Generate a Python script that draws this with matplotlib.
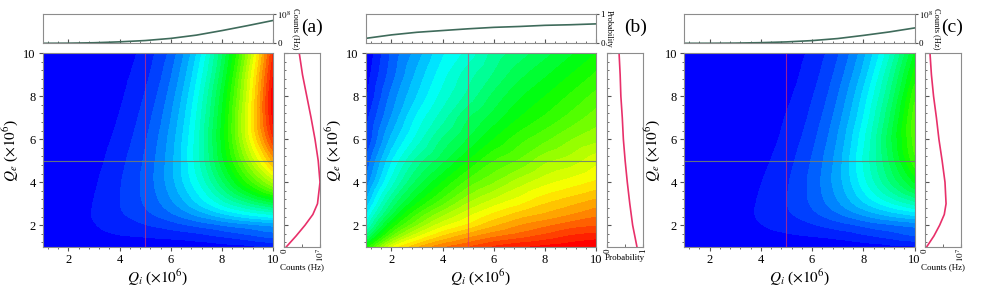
import numpy as np
import matplotlib
matplotlib.use("Agg")
import matplotlib.pyplot as plt
import matplotlib.tri as mtri
from matplotlib.colors import LinearSegmentedColormap, Normalize
from matplotlib.ticker import MultipleLocator, AutoMinorLocator

plt.rcParams['font.family'] = ['Liberation Serif', 'DejaVu Serif']
plt.rcParams['mathtext.fontset'] = 'stix'

# grid of the maps (x10^6)
qi = [1, 2, 3, 4, 5, 6, 7, 8, 9, 10]
qe = [1, 1.5, 2, 2.5, 3, 4, 5, 6, 7, 8, 9, 10]

# (a) counts, x10^7 Hz, one row per qe value
counts_a = [
    [0.02, 0.04, 0.05, 0.05, 0.06, 0.08, 0.12, 0.17, 0.23, 0.29],
    [0.03, 0.12, 0.21, 0.28, 0.33, 0.39, 0.48, 0.64, 0.82, 1.02],
    [0.02, 0.13, 0.28, 0.43, 0.58, 0.75, 0.97, 1.20, 1.40, 1.57],
    [0.02, 0.13, 0.32, 0.55, 0.80, 1.14, 1.56, 2.03, 2.43, 2.74],
    [0.01, 0.11, 0.31, 0.59, 0.93, 1.40, 2.06, 2.78, 3.46, 4.04],
    [0.00, 0.07, 0.26, 0.57, 1.00, 1.67, 2.59, 3.82, 5.14, 6.37],
    [0.00, 0.04, 0.19, 0.50, 0.95, 1.69, 2.82, 4.39, 6.10, 7.89],
    [0.00, 0.03, 0.14, 0.41, 0.86, 1.62, 2.82, 4.58, 6.71, 8.93],
    [0.00, 0.02, 0.11, 0.32, 0.75, 1.49, 2.71, 4.53, 6.85, 9.40],
    [0.00, 0.01, 0.08, 0.25, 0.63, 1.34, 2.54, 4.37, 6.71, 9.50],
    [0.00, 0.01, 0.06, 0.20, 0.51, 1.17, 2.32, 4.09, 6.51, 9.31],
    [0.00, 0.00, 0.04, 0.16, 0.42, 1.00, 2.09, 3.84, 6.17, 9.03],
]

# (b) probability
prob_b = [
    [0.50, 0.67, 0.75, 0.80, 0.83, 0.86, 0.88, 0.89, 0.90, 0.91],
    [0.40, 0.57, 0.67, 0.73, 0.77, 0.80, 0.82, 0.84, 0.86, 0.87],
    [0.33, 0.50, 0.60, 0.67, 0.71, 0.75, 0.78, 0.80, 0.82, 0.83],
    [0.29, 0.44, 0.55, 0.62, 0.67, 0.71, 0.74, 0.76, 0.78, 0.80],
    [0.25, 0.40, 0.50, 0.57, 0.63, 0.67, 0.70, 0.73, 0.75, 0.77],
    [0.20, 0.33, 0.43, 0.50, 0.56, 0.60, 0.64, 0.67, 0.69, 0.71],
    [0.17, 0.29, 0.38, 0.44, 0.50, 0.55, 0.58, 0.62, 0.64, 0.67],
    [0.14, 0.25, 0.33, 0.40, 0.45, 0.50, 0.54, 0.57, 0.60, 0.62],
    [0.13, 0.22, 0.30, 0.36, 0.42, 0.46, 0.50, 0.53, 0.56, 0.59],
    [0.11, 0.20, 0.27, 0.33, 0.38, 0.43, 0.47, 0.50, 0.53, 0.56],
    [0.10, 0.18, 0.25, 0.31, 0.36, 0.40, 0.44, 0.47, 0.50, 0.53],
    [0.09, 0.17, 0.23, 0.29, 0.33, 0.38, 0.41, 0.44, 0.47, 0.50],
]

# (c) counts, x10^7 Hz
counts_c = [
    [0.01, 0.03, 0.04, 0.04, 0.05, 0.07, 0.11, 0.15, 0.21, 0.26],
    [0.01, 0.07, 0.14, 0.20, 0.25, 0.31, 0.39, 0.54, 0.71, 0.89],
    [0.01, 0.07, 0.17, 0.29, 0.41, 0.56, 0.76, 0.96, 1.15, 1.30],
    [0.01, 0.06, 0.18, 0.34, 0.54, 0.81, 1.15, 1.54, 1.90, 2.19],
    [0.00, 0.04, 0.16, 0.34, 0.59, 0.94, 1.44, 2.03, 2.60, 3.11],
    [0.00, 0.02, 0.11, 0.29, 0.56, 1.00, 1.66, 2.56, 3.55, 4.52],
    [0.00, 0.01, 0.07, 0.22, 0.48, 0.93, 1.64, 2.72, 3.90, 5.29],
    [0.00, 0.01, 0.05, 0.16, 0.39, 0.81, 1.52, 2.61, 4.03, 5.54],
    [0.00, 0.00, 0.03, 0.12, 0.32, 0.69, 1.36, 2.40, 3.84, 5.55],
    [0.00, 0.00, 0.02, 0.08, 0.24, 0.58, 1.19, 2.19, 3.56, 5.32],
    [0.00, 0.00, 0.02, 0.06, 0.18, 0.47, 1.02, 1.92, 3.26, 4.93],
    [0.00, 0.00, 0.01, 0.05, 0.14, 0.38, 0.86, 1.69, 2.90, 4.52],
]

cut_qi = 5   # vertical cut -> right panel
cut_qe = 5   # horizontal cut -> top panel

rainbow = LinearSegmentedColormap.from_list(
    'origin_rainbow', ['#0000ff', '#00ffff', '#00ff00', '#ffff00', '#ff0000'])

W, H = 981, 290
fig = plt.figure(figsize=(W / 100, H / 100), dpi=100)

SPINE = '#8c8c8c'
TICK = '#555555'
TOPLINE = '#3f6b5b'
RIGHTLINE = '#e8306a'


def px(x0, y0, x1, y1):
    # pixel box -> figure fraction rect
    return [x0 / W, 1 - y1 / H, (x1 - x0) / W, (y1 - y0) / H]


def style(ax):
    for s in ax.spines.values():
        s.set_color(SPINE)
        s.set_linewidth(0.8)


def smooth_fill(ax, Z, levels):
    X, Y = np.meshgrid(qi, qe)
    tri = mtri.Triangulation(X.ravel(), Y.ravel())
    z = np.asarray(Z, float).ravel()
    interp = mtri.CubicTriInterpolator(tri, z, kind='geom')
    tri_f, z_f = mtri.UniformTriRefiner(tri).refine_field(z, triinterpolator=interp, subdiv=3)
    z_f = np.clip(z_f, levels[0] + 1e-6, levels[-1] - 1e-6)
    half = (levels[1] - levels[0]) / 2
    ax.tricontourf(tri_f, z_f, levels=levels, cmap=rainbow,
                   norm=Normalize(levels[0] + half, levels[-1] - half))


def panel(x0, xr, Z, levels, top_max, top_labels, right_labels, unit, letter, letter_x):
    Z = np.asarray(Z, float)
    ax = fig.add_axes(px(x0, 53.3, x0 + 230.6, 246.7))
    smooth_fill(ax, Z, levels)
    ax.axvline(cut_qi, color=RIGHTLINE, lw=0.8, alpha=0.65)
    ax.axhline(cut_qe, color='#6f7d74', lw=0.8, alpha=0.9)
    ax.set_xlim(1, 10)
    ax.set_ylim(1, 10)
    ax.xaxis.set_major_locator(MultipleLocator(2))
    ax.yaxis.set_major_locator(MultipleLocator(2))
    ax.xaxis.set_minor_locator(AutoMinorLocator(5))
    ax.yaxis.set_minor_locator(AutoMinorLocator(5))
    ax.tick_params(which='both', direction='out', color=TICK, labelsize=9, pad=2)
    ax.tick_params(which='major', length=3)
    ax.tick_params(which='minor', length=1.5)
    ax.set_xlabel(r'$Q_i$ ($\times10^6$)', fontsize=11, labelpad=1)
    ax.set_ylabel(r'$Q_e$ ($\times10^6$)', fontsize=11, labelpad=2)
    style(ax)

    # top: horizontal cut
    row = Z[qe.index(cut_qe)]
    at = fig.add_axes(px(x0, 14.3, x0 + 230.6, 43.3))
    at.plot(qi, row, color=TOPLINE, lw=1.2)
    at.set_xlim(1, 10)
    at.set_ylim(0, top_max)
    at.xaxis.set_major_locator(MultipleLocator(2))
    at.xaxis.set_minor_locator(AutoMinorLocator(5))
    at.tick_params(axis='x', which='both', direction='in', labelbottom=False, color=TICK)
    at.tick_params(axis='x', which='major', length=3)
    at.tick_params(axis='x', which='minor', length=1.5)
    at.yaxis.tick_right()
    at.set_yticks([0, top_max])
    at.set_yticklabels(top_labels)
    at.tick_params(axis='y', direction='out', length=2, labelsize=6.5, pad=1, color=TICK)
    at.yaxis.set_label_position('right')
    at.set_ylabel(unit, rotation=-90, fontsize=6, va='bottom', labelpad=0)
    style(at)

    # right: vertical cut
    col = Z[:, qi.index(cut_qi)]
    ar = fig.add_axes(px(xr, 53.3, xr + 35.7, 246.7))
    ar.plot(col, qe, color=RIGHTLINE, lw=1.2)
    ar.set_xlim(0, 1)
    ar.set_ylim(1, 10)
    ar.yaxis.set_major_locator(MultipleLocator(2))
    ar.yaxis.set_minor_locator(AutoMinorLocator(5))
    ar.tick_params(axis='y', which='both', direction='in', labelleft=False, color=TICK)
    ar.tick_params(axis='y', which='major', length=3)
    ar.tick_params(axis='y', which='minor', length=1.5)
    ar.set_xticks([0, 1])
    ar.set_xticklabels(right_labels)
    ar.xaxis.set_minor_locator(AutoMinorLocator(2))
    ar.tick_params(axis='x', which='both', direction='in', length=2, labelsize=6.5, pad=1,
                   labelrotation=90, color=TICK)
    ar.set_xlabel(unit, fontsize=6.5, labelpad=1)
    style(ar)

    fig.text(letter_x / W, 1 - 27 / H, letter, fontsize=14, ha='center', va='center')


levels_counts = np.linspace(0, 9.6, 33)
levels_prob = np.linspace(0.09, 0.91, 33)

panel(42.7, 284.3, counts_a, levels_counts, 10, ['0', r'$10^8$'], ['0', r'$10^7$'],
      'Counts (Hz)', '(a)', 312)
panel(365.7, 607.3, prob_b, levels_prob, 1, ['0', '1'], ['0', '1'],
      'Probability', '(b)', 636)
panel(684.0, 925.0, counts_c, levels_counts, 10, ['0', r'$10^8$'], ['0', r'$10^7$'],
      'Counts (Hz)', '(c)', 952)

fig.savefig('out.png', dpi=100)
